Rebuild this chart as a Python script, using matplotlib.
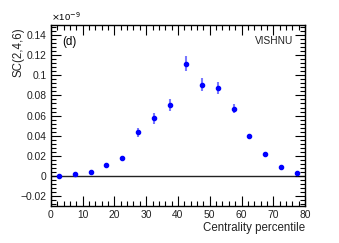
import matplotlib.pyplot as plt
from matplotlib.ticker import MultipleLocator

plt.rcParams['font.family'] = ['Liberation Sans', 'DejaVu Sans']

# centrality bins (percentile) and SC(2,4,6) in units of 1e-9
centrality = [2.5, 7.5, 12.5, 17.5, 22.5, 27.5, 32.5, 37.5,
              42.5, 47.5, 52.5, 57.5, 62.5, 67.5, 72.5, 77.5]
sc246 = [0.0, 0.0017, 0.004, 0.011, 0.018, 0.0434, 0.0572, 0.0707,
         0.1117, 0.0907, 0.0876, 0.067, 0.0394, 0.022, 0.0086, 0.003]
sc246_err = [0.0005, 0.0006, 0.0008, 0.0009, 0.001, 0.0046, 0.0056, 0.006,
             0.0077, 0.0066, 0.0062, 0.0045, 0.002, 0.0015, 0.001, 0.0008]

fig = plt.figure(figsize=(3.39, 2.43), dpi=100)
ax = fig.add_axes([0.150, 0.152, 0.750, 0.745])

ax.axhline(0, color='#222222', lw=1.0, zorder=1)
ax.errorbar(centrality, sc246, yerr=sc246_err, fmt='o', color='#0000ff',
            ms=3.0, ecolor=(0.25, 0.25, 1.0, 0.7), elinewidth=1.5, capsize=0,
            zorder=3)

ax.set_xlim(0, 80)
ax.set_ylim(-0.03, 0.15)
ax.xaxis.set_major_locator(MultipleLocator(10))
ax.xaxis.set_minor_locator(MultipleLocator(2))
ax.yaxis.set_minor_locator(MultipleLocator(0.004))
ax.set_yticks([-0.02, 0, 0.02, 0.04, 0.06, 0.08, 0.1, 0.12, 0.14])
ax.set_yticklabels(['\u22120.02', '0', '0.02', '0.04', '0.06', '0.08', '0.1', '0.12', '0.14'])
ax.tick_params(which='both', direction='in', top=True, right=True,
               labelsize=7.4, color='black', width=0.8, pad=3,
               labelcolor='#222222')
ax.tick_params(which='major', length=7)
ax.tick_params(which='minor', length=3.5)
for s in ax.spines.values():
    s.set_linewidth(1.0)

ax.set_xlabel('Centrality percentile', fontsize=8.3, ha='right', x=1.0,
              labelpad=1, color='#222222')
ax.set_ylabel('SC(2,4,6)', fontsize=8.3, ha='right', y=0.985, labelpad=-3,
              color='#222222')
fig.text(0.150, 0.905, r'$\times$10$^{-9}$', fontsize=6.8, ha='left', va='bottom')
ax.text(0.045, 0.94, '(d)', transform=ax.transAxes, fontsize=8.3, va='top')
ax.text(0.955, 0.94, 'VISHNU', transform=ax.transAxes, fontsize=7.3,
        va='top', ha='right', color='#222222')

fig.savefig('out.png', dpi=100)
